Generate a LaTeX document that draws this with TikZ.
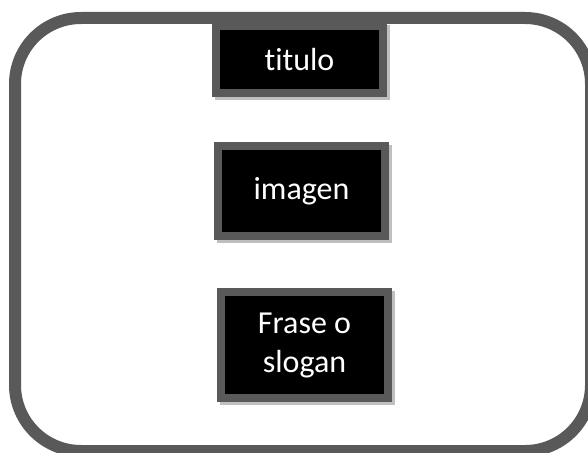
\documentclass[tikz,border=0pt]{standalone}
\usepackage{fontspec}
\setmainfont[Ligatures=NoCommon]{Carlito}
\definecolor{marco}{HTML}{595959}
\definecolor{sombra}{HTML}{BFBFBF}

\begin{document}
\begin{tikzpicture}[x=1pt, y=-1pt, node distance=22mm,
  frame/.style={draw=marco, line width=12pt, rounded corners=66pt},
  block/.style={rectangle, fill=black, draw=marco, line width=8pt, text=white, minimum width=167pt, align=center, font=\fontsize{32}{39}\selectfont, preaction={draw=sombra, fill=sombra, line width=8pt, transform canvas={xshift=3pt, yshift=-3pt}}}]
  {
  \useasboundingbox (0,0) rectangle (588,452);
  \clip (0,0) rectangle (588,452);
  \draw[frame] (15,18) rectangle (591,451);
  \node[block, minimum height=67pt] (titulo) at (299.5,59.5) {titulo};
  \node[block, minimum height=90pt, below of=titulo, node distance=131.5pt, xshift=2pt] (imagen) {imagen};
  \node[block, minimum height=106pt, below of=imagen, node distance=154pt, xshift=3pt] (frase) {Frase o\\slogan};
  }
\end{tikzpicture}
\end{document}
